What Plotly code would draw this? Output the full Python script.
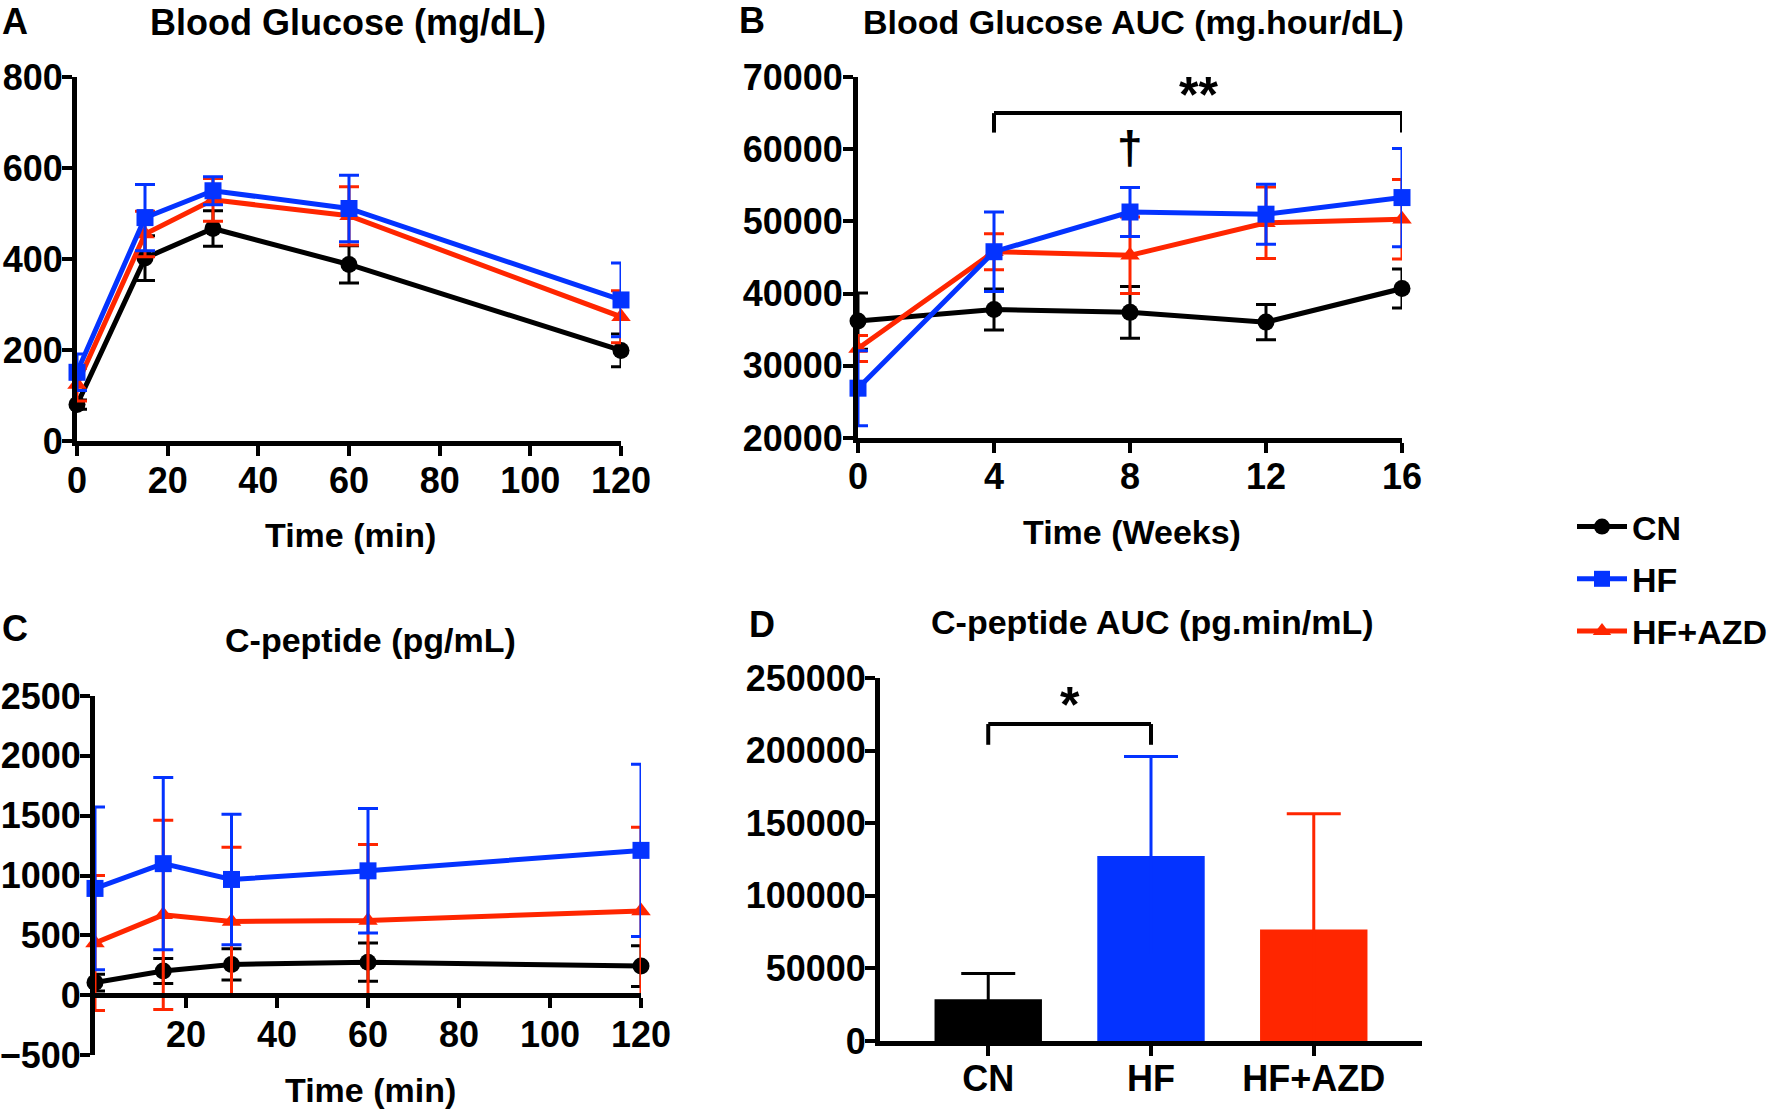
import plotly.graph_objects as go

# ---------------- data ----------------
groups = ["CN", "HF", "HF+AZD"]
time_min = [0, 15, 30, 60, 120]
time_weeks = [0, 4, 8, 12, 16]

glucose_cn = [80, 402, 467, 388, 199]
glucose_cn_sd = [10, 49, 39, 41, 36]
glucose_hf = [151, 491, 550, 511, 310]
glucose_hf_sd = [40, 73, 31, 73, 81]
glucose_azd = [124, 455, 530, 495, 273]
glucose_azd_sd = [36, 50, 47, 64, 57]

auc_cn = [36200, 37800, 37400, 36050, 40700]
auc_cn_sd = [3900, 2850, 3600, 2450, 2700]
auc_hf = [26900, 45800, 51300, 51000, 53300]
auc_hf_sd = [5200, 5500, 3400, 4150, 6800]
auc_azd = [32400, 45800, 45300, 49800, 50300]
auc_azd_sd = [1800, 2500, 5300, 4950, 5500]

cpep_cn = [105, 202, 257, 276, 243]
cpep_cn_sd = [70, 105, 130, 160, 170]
cpep_hf = [892, 1099, 967, 1039, 1210]
cpep_hf_sd = [680, 720, 545, 520, 720]
cpep_azd = [436, 671, 616, 624, 704]
cpep_azd_sd = [565, 790, 620, 635, 700]

cpep_auc = [28750, 127450, 76840]
cpep_auc_sd = [17700, 68550, 79600]

glucose_ticks = [0, 200, 400, 600, 800]
time_min_ticks = [0, 20, 40, 60, 80, 100, 120]
auc_ticks = [20000, 30000, 40000, 50000, 60000, 70000]
cpep_ticks = [-500, 0, 500, 1000, 1500, 2000, 2500]
cpep_time_ticks = [20, 40, 60, 80, 100, 120]
cpep_auc_ticks = [0, 50000, 100000, 150000, 200000, 250000]

# ---------------- style ----------------
W, H = 1770, 1110
FONT = "Liberation Sans"
BLACK, BLUE, RED = "#000000", "#0433FF", "#FF2600"
colors = [BLACK, BLUE, RED]
symbols = ["circle", "square", "triangle-up"]


def fx(px):
    return px / W


def fy(py):
    return 1 - py / H


fig = go.Figure()

panels = [
    ("x", "y", time_min, [(glucose_cn, glucose_cn_sd), (glucose_hf, glucose_hf_sd), (glucose_azd, glucose_azd_sd)], True),
    ("x2", "y2", time_weeks, [(auc_cn, auc_cn_sd), (auc_hf, auc_hf_sd), (auc_azd, auc_azd_sd)], False),
    ("x3", "y3", time_min, [(cpep_cn, cpep_cn_sd), (cpep_hf, cpep_hf_sd), (cpep_azd, cpep_azd_sd)], False),
]
draw_order = [0, 2, 1]
for xa, ya, xs, data, show in panels:
    for i in draw_order:
        vals, sd = data[i]
        fig.add_trace(go.Scatter(
            x=xs, y=vals, xaxis=xa, yaxis=ya, name=groups[i],
            mode="lines+markers", cliponaxis=False,
            line=dict(color=colors[i], width=5),
            marker=dict(color=colors[i], symbol=symbols[i], size=17),
            error_y=dict(type="data", array=sd, color=colors[i], thickness=3, width=10),
            showlegend=show, legendgroup=groups[i], legendrank=i,
        ))

# bars (panel D), each with its own coloured error bar
for i in range(3):
    fig.add_trace(go.Bar(
        x=[groups[i]], y=[cpep_auc[i]], xaxis="x4", yaxis="y4", width=0.66,
        marker=dict(color=colors[i], line=dict(width=0)),
        error_y=dict(type="data", array=[cpep_auc_sd[i]], color=colors[i], thickness=3, width=27),
        showlegend=False,
    ))

tickfont = dict(family=FONT, size=36, color="black", weight="bold")
common = dict(showline=True, linewidth=5, linecolor="black", ticks="outside", ticklen=10,
              tickwidth=4, tickcolor="black", showgrid=False, zeroline=False,
              tickfont=tickfont, fixedrange=True, automargin=False)

fig.update_layout(
    template="none",
    width=W, height=H, margin=dict(l=0, r=0, t=0, b=0, autoexpand=False),
    paper_bgcolor="white", plot_bgcolor="white",
    font=dict(family=FONT, color="black", weight="bold"),
    barmode="overlay", showlegend=True,
    xaxis=dict(common, domain=[fx(77), fx(621)], range=[0, 120], tickvals=time_min_ticks,
               anchor="y", ticklabelstandoff=-6),
    yaxis=dict(common, domain=[fy(441), fy(77)], range=[0, 800], tickvals=glucose_ticks,
               anchor="x", ticklabelstandoff=-8),
    xaxis2=dict(common, domain=[fx(858), fx(1402)], range=[0, 16], tickvals=time_weeks,
                anchor="y2", ticklabelstandoff=-7),
    yaxis2=dict(common, domain=[fy(438), fy(77)], range=[20000, 70000], tickvals=auc_ticks,
                tickformat="d", anchor="x2", ticklabelstandoff=-7),
    xaxis3=dict(common, domain=[fx(95), fx(641)], range=[0, 120], tickvals=cpep_time_ticks,
                anchor="free", position=fy(995), ticklabelstandoff=-4),
    yaxis3=dict(common, domain=[fy(1055), fy(696)], range=[-500, 2500], tickvals=cpep_ticks,
                anchor="x3", ticklabelstandoff=-8),
    xaxis4=dict(common, domain=[fx(880), fx(1422)], range=[-0.665, 2.665], type="category",
                anchor="y4", ticklabelstandoff=-8),
    yaxis4=dict(common, domain=[fy(1041), fy(678)], range=[0, 250000], tickvals=cpep_auc_ticks,
                tickformat="d", anchor="x4", ticklabelstandoff=-8),
    legend=dict(x=fx(1572), y=fy(579), xanchor="left", yanchor="middle",
                font=dict(family=FONT, size=34, color="black", weight="bold"),
                itemwidth=50, tracegroupgap=5, bgcolor="rgba(0,0,0,0)",
                traceorder="grouped"),
)

ann = []


def label(text, x, y, size, xanchor="center", xref="paper", yref="paper"):
    ann.append(dict(text=text, x=x, y=y, xref=xref, yref=yref, xanchor=xanchor, yanchor="middle",
                    showarrow=False, font=dict(family=FONT, size=size, color="black", weight="bold")))


# panel letters
label("A", fx(0), fy(21), 36, "left")
label("B", fx(737), fy(20), 36, "left")
label("C", fx(0), fy(628), 36, "left")
label("D", fx(747), fy(624), 36, "left")
# titles
label("Blood Glucose (mg/dL)", fx(348), fy(22), 36)
label("Blood Glucose AUC (mg.hour/dL)", fx(1133), fy(22), 34)
label("C-peptide (pg/mL)", fx(370), fy(640), 34)
label("C-peptide AUC (pg.min/mL)", fx(1152), fy(622), 34)
# axis titles
label("Time (min)", fx(350), fy(535), 34)
label("Time (Weeks)", fx(1132), fy(532), 34)
label("Time (min)", fx(370), fy(1090), 34)
# significance marks
label("**", 10, fy(95), 50, "center", xref="x2")
label("†", 8, fy(148), 46, "center", xref="x2")
label("*", 0.5, fy(705), 50, "center", xref="x4")
fig.update_layout(annotations=ann)

br = dict(color="black", width=4)
shapes = [
    dict(type="line", xref="x2", yref="y2", x0=4, x1=16, y0=65000, y1=65000, line=br),
    dict(type="line", xref="x2", yref="y2", x0=4, x1=4, y0=65000, y1=62300, line=br),
    dict(type="line", xref="x2", yref="y2", x0=16, x1=16, y0=65000, y1=62300, line=br),
    dict(type="line", xref="x4", yref="y4", x0=0, x1=1, y0=218300, y1=218300, line=br),
    dict(type="line", xref="x4", yref="y4", x0=0, x1=0, y0=218300, y1=204000, line=br),
    dict(type="line", xref="x4", yref="y4", x0=1, x1=1, y0=218300, y1=204000, line=br),
]
fig.update_layout(shapes=shapes)

fig.write_html("out.html", config={"displayModeBar": False},
               post_script="document.body.style.margin='0';")
